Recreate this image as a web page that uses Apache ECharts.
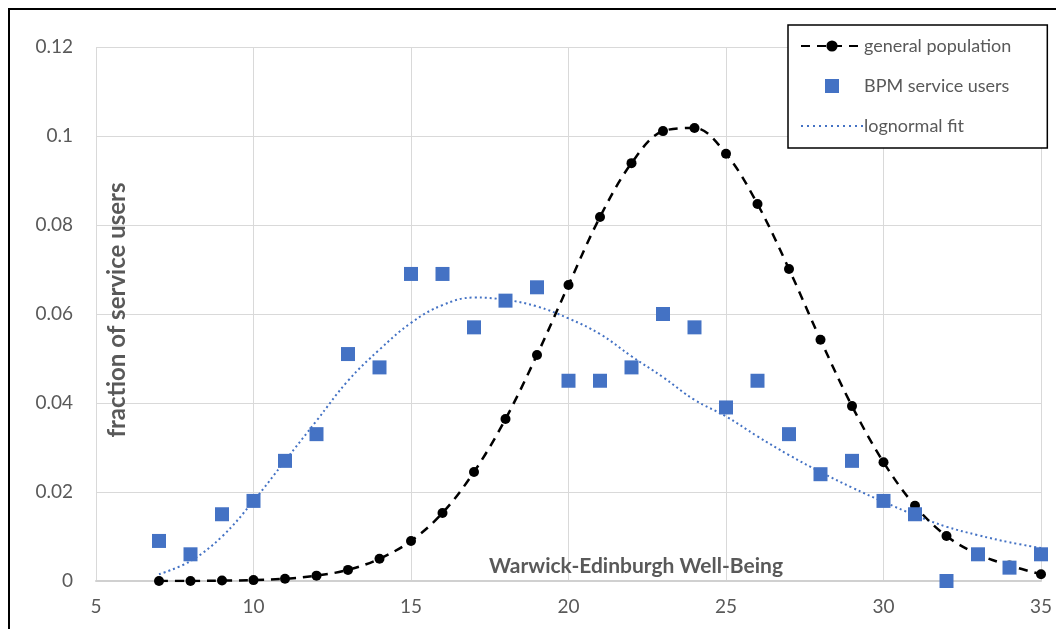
<!DOCTYPE html>
<html><head><meta charset="utf-8">
<script src="https://cdn.jsdelivr.net/npm/echarts@6/dist/echarts.min.js"></script>
<style>html,body{margin:0;padding:0;background:#fff}#c{width:1056px;height:629px}</style>
</head><body><div id="c"></div>
<script>
const xs = [7,8,9,10,11,12,13,14,15,16,17,18,19,20,21,22,23,24,25,26,27,28,29,30,31,32,33,34,35];
const generalPopulation = [0,0,0.0001,0.0002,0.0005,0.0012,0.0025,0.005,0.009,0.0153,0.0245,0.0364,0.0508,0.0665,0.0818,0.0939,0.1011,0.1018,0.096,0.0847,0.0701,0.0542,0.0393,0.0267,0.0169,0.0101,0.006,0.0035,0.0015];
const bpmUsers = [0.009,0.006,0.015,0.018,0.027,0.033,0.051,0.048,0.069,0.069,0.057,0.063,0.066,0.045,0.045,0.048,0.060,0.057,0.039,0.045,0.033,0.024,0.027,0.018,0.015,0,0.006,0.003,0.006];
const lognormalFit = [0.0015,0.0045,0.010,0.018,0.027,0.036,0.045,0.052,0.058,0.062,0.0637,0.0632,0.0617,0.059,0.0555,0.0505,0.0458,0.0407,0.037,0.0325,0.0283,0.0245,0.021,0.0178,0.0148,0.0122,0.0103,0.0087,0.0074];
const xTicks = {min:5,max:35,interval:5};
const yTicks = {min:0,max:0.12,interval:0.02};
const seriesNames = ['general population','BPM service users','lognormal fit'];
const FONT = 'Lato, "Open Sans", sans-serif';
const GRAY = '#595959';
const BLUE = '#4472C4';
const pair = (a) => xs.map((x,i)=>[x,a[i]]);

// legend icons
const squareIcon = 'path://M0,0h10v10h-10z';
let dots = '';
for (let i = 0; i < 11; i++) { dots += 'M' + (i*6) + ',0h2v2h-2z'; }
const dottedIcon = 'path://' + dots;

const chart = echarts.init(document.getElementById('c'), null, {renderer:'canvas'});
chart.setOption({
  animation:false,
  backgroundColor:'#fff',
  grid:{left:96,top:47,right:15,bottom:48,containLabel:false},
  xAxis:{type:'value',min:xTicks.min,max:xTicks.max,interval:xTicks.interval,
    axisLine:{show:true,lineStyle:{color:'#d0d0d0',width:2}},
    axisTick:{show:false},
    axisLabel:{color:GRAY,fontSize:19,fontFamily:FONT,margin:16},
    splitLine:{show:true,lineStyle:{color:'#d9d9d9',width:1}}},
  yAxis:{type:'value',min:yTicks.min,max:yTicks.max,interval:yTicks.interval,
    axisLine:{show:false},axisTick:{show:false},
    axisLabel:{color:GRAY,fontSize:19,fontFamily:FONT,margin:23},
    splitLine:{show:true,lineStyle:{color:'#d9d9d9',width:1}}},
  legend:{orient:'vertical',left:788,top:25,itemGap:22,itemWidth:62,itemHeight:14,
    padding:[12,36,13,12],borderColor:'#000',borderWidth:1.5,backgroundColor:'#fff',
    textStyle:{color:GRAY,fontSize:18,fontFamily:FONT,padding:[0,0,0,-4]},
    data:[
      {name:seriesNames[0]},
      {name:seriesNames[1],icon:squareIcon},
      {name:seriesNames[2],icon:dottedIcon}
    ]},
  series:[
    {name:seriesNames[0],type:'line',data:pair(generalPopulation),smooth:0.35,
      symbol:'circle',symbolSize:10,z:3,
      itemStyle:{color:'#000'},lineStyle:{color:'#000',width:2.5,type:[9,7]}},
    {name:seriesNames[1],type:'scatter',data:pair(bpmUsers),symbol:'rect',symbolSize:14,z:4,
      itemStyle:{color:BLUE,opacity:1}},
    {name:seriesNames[2],type:'line',data:pair(lognormalFit),smooth:0.4,showSymbol:false,z:2,
      itemStyle:{color:BLUE},lineStyle:{color:BLUE,width:2,type:[2,3]}}
  ],
  graphic:[
    {type:'rect',shape:{x:9,y:9,width:1080,height:660},style:{fill:'none',stroke:'#000',lineWidth:2},z:100,silent:true},
    {type:'text',x:636,y:566,z:50,style:{text:'Warwick-Edinburgh Well-Being',fill:GRAY,font:'bold 21px '+FONT,align:'center',verticalAlign:'middle'}},
    {type:'text',x:117,y:310,rotation:Math.PI/2,z:50,style:{text:'fraction of service users',fill:GRAY,font:'bold 24px '+FONT,align:'center',verticalAlign:'middle'}}
  ]
});
</script></body></html>
